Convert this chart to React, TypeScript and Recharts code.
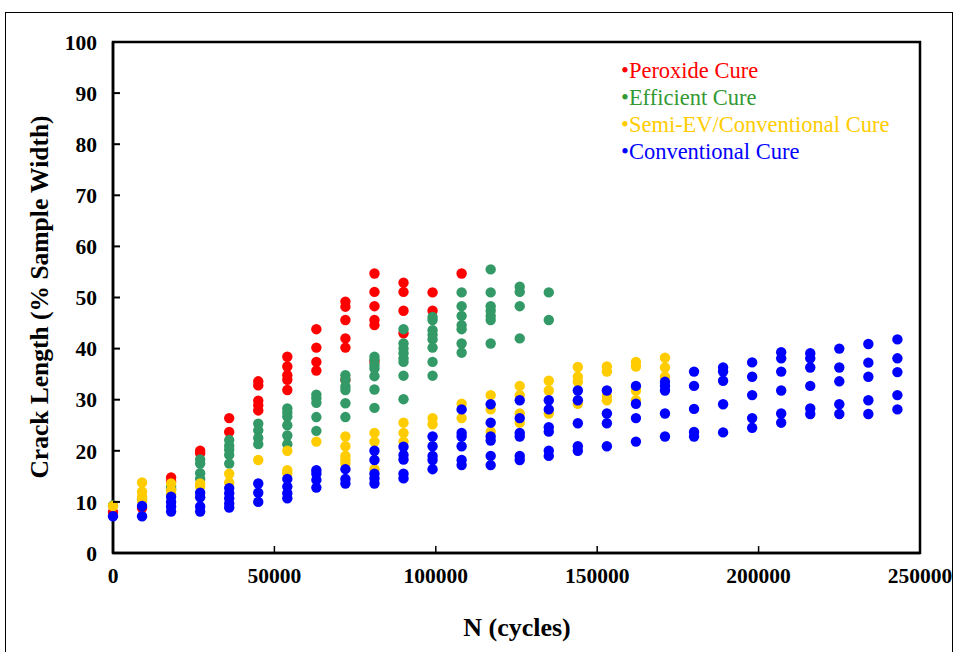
import React from "react";
import { ScatterChart, Scatter, XAxis, YAxis, ReferenceArea } from "recharts";

const cycles = [0, 9000, 18000, 27000, 36000, 45000, 54000, 63000, 72000, 81000, 90000, 99000, 108000, 117000, 126000, 135000, 144000, 153000, 162000, 171000, 180000, 189000, 198000, 207000, 216000, 225000, 234000, 243000];

const xTicks = [0, 50000, 100000, 150000, 200000, 250000];
const yTicks = [0, 10, 20, 30, 40, 50, 60, 70, 80, 90, 100];

const seriesNames = ["Peroxide Cure", "Efficient Cure", "Semi-EV/Conventional Cure", "Conventional Cure"];

// crack length values per cycle count (index matches cycles)
const peroxide: number[][] = [
  [8], [8.8], [14.8, 14], [20, 19.5], [26.4, 23.7], [33.6, 32.8, 29.8, 28.9, 27.9],
  [38.4, 36.5, 34.8, 33.9, 31.9], [43.8, 40.2, 37.4, 35.7], [49.2, 48.2, 45.6, 42.0, 40.2, 33.9],
  [54.7, 51.1, 48.3, 45.6, 44.6, 37.5], [52.9, 51.1, 47.4, 43.0], [51.0, 47.4], [54.7],
];

const efficient: number[][] = [
  [9.3], [10.5], [13, 12.5], [18.3, 17.5, 15.6, 14.5], [22.1, 21, 20.2, 19.2, 17.5], [25.3, 24.0, 22.5, 21.3],
  [28.3, 27.5, 26.7, 25.0, 23.0, 21.3], [31.0, 30.3, 29.4, 26.6, 23.9], [34.8, 33.9, 32.6, 31.9, 29.3, 26.6],
  [38.4, 37.8, 36.8, 36.1, 34.6, 32.0, 28.4], [43.8, 41.0, 40.0, 39.1, 38.1, 37.4, 34.7, 30.1],
  [46.2, 45.6, 43.6, 42.7, 41.8, 40.2, 37.4, 34.7], [51.0, 48.3, 46.4, 44.6, 43.8, 41.0, 39.2],
  [55.5, 51.0, 48.3, 47.4, 46.4, 45.6, 41.0], [52.1, 51.1, 48.3, 42.0], [51.0, 45.6],
];

const semiEV: number[][] = [
  [9.2], [13.8, 12.0, 11.0, 10.2], [13.6, 12.3, 11.5], [13.6, 13.0], [15.5, 13.8], [18.2],
  [20.0, 16.2, 15.6], [21.8], [22.8, 20.9, 19.0, 18.2, 17.5], [23.5, 21.8, 16.4], [25.5, 23.5, 21.8],
  [26.4, 25.2], [29.2, 26.4], [30.9, 28.1, 23.75], [32.7, 30.9, 27.3, 25.5], [33.7, 31.8, 27.3],
  [36.4, 34.5, 33.5, 29.2], [36.5, 35.5, 30.7, 29.9], [37.4, 36.5, 31.8, 29.9], [38.2, 36.3, 34.5],
];

const conventional: number[][] = [
  [7.2], [9.2, 7.2], [11.0, 10.0, 9.1, 8.1], [11.8, 10.9, 9.1, 8.1], [12.7, 11.7, 10.7, 9.7, 8.9],
  [13.6, 11.8, 10.0], [14.5, 13.0, 11.7, 10.7], [16.2, 15.5, 14.3, 12.8], [16.4, 14.5, 13.6],
  [20.0, 18.2, 15.5, 14.6, 13.6], [20.8, 19.2, 18.3, 15.5, 14.6], [22.8, 20.9, 19.0, 18.2, 16.4],
  [28.1, 23.5, 22.8, 20.9, 18.2, 17.2], [29.1, 25.5, 22.8, 22.0, 19.0, 17.2], [29.9, 26.4, 23.5, 22.8, 19.0, 18.2],
  [29.9, 28.1, 24.6, 23.75, 20.0, 19.0], [31.8, 29.9, 25.4, 20.9, 20.0], [31.8, 27.3, 25.4, 20.9],
  [32.7, 29.2, 26.4, 21.8], [33.5, 32.7, 31.8, 27.3, 22.8], [35.5, 32.7, 28.2, 23.7, 22.8],
  [36.3, 35.5, 33.7, 29.1, 23.6], [37.3, 34.5, 30.9, 26.4, 24.5], [39.3, 38.1, 35.5, 31.8, 27.3, 25.5],
  [39.1, 38.1, 36.3, 32.7, 28.3, 27.2], [40.0, 36.3, 33.6, 29.1, 27.2], [40.9, 37.25, 34.5, 29.9, 27.2],
  [41.8, 38.1, 35.4, 30.9, 28.1],
];

const toPoints = (vals: number[][]) =>
  vals.flatMap((arr, i) => arr.map((v) => ({ n: cycles[i], len: v })));

const FONT = "'Liberation Serif', 'Times New Roman', serif";
const dotColors = ["#FF0000", "#339966", "#FFCC00", "#0000FF"];
const textColors = ["#FF0000", "#339933", "#FFCC00", "#0000FF"];

const PLOT_LEFT = 113;
const PLOT_BOTTOM = 553;

const YTick = (props: any) => {
  const { y, payload } = props;
  return (
    <g>
      <line x1={PLOT_LEFT} x2={PLOT_LEFT + 7} y1={y} y2={y} stroke="#000" strokeWidth={2} />
      <text x={97} y={y} dy="0.36em" textAnchor="end" fontFamily={FONT} fontWeight="bold" fontSize={21.5} fill="#000">
        {payload.value}
      </text>
    </g>
  );
};

const XTick = (props: any) => {
  const { x, payload } = props;
  return (
    <g>
      <line x1={x} x2={x} y1={PLOT_BOTTOM} y2={PLOT_BOTTOM - 7} stroke="#000" strokeWidth={1.5} />
      <text x={x} y={583} textAnchor="middle" fontFamily={FONT} fontWeight="bold" fontSize={21.5} fill="#000">
        {payload.value}
      </text>
    </g>
  );
};

const makeShape = (color: string) => (p: any) => (
  <circle cx={p.cx} cy={p.cy} r={5.2} fill={color} />
);

export default function App() {
  const all = [peroxide, efficient, semiEV, conventional];
  return (
    <div style={{ position: "absolute", left: 0, top: 0, width: 956, height: 652, overflow: "hidden", background: "#fff" }}>
      <div style={{ position: "absolute", left: 5, top: 12, width: 946, height: 700, border: "1.5px solid #000" }} />
      <ScatterChart width={956} height={652} margin={{ top: 42, right: 36, bottom: 0, left: 0 }}>
        <XAxis
          type="number"
          dataKey="n"
          domain={[0, 250000]}
          ticks={xTicks}
          interval={0}
          height={99}
          axisLine={{ stroke: "#000", strokeWidth: 2.5 }}
          tickLine={false}
          tick={<XTick />}
        />
        <YAxis
          type="number"
          dataKey="len"
          domain={[0, 100]}
          ticks={yTicks}
          interval={0}
          width={113}
          axisLine={{ stroke: "#000", strokeWidth: 2.5 }}
          tickLine={false}
          tick={<YTick />}
        />
        <ReferenceArea x1={0} x2={250000} y1={0} y2={100} fill="none" fillOpacity={0} stroke="#000" strokeWidth={2.5} />
        {all.map((vals, i) => (
          <Scatter
            key={seriesNames[i]}
            name={seriesNames[i]}
            data={toPoints(vals)}
            fill={dotColors[i]}
            shape={makeShape(dotColors[i])}
            isAnimationActive={false}
          />
        ))}
      </ScatterChart>
      <div style={{ position: "absolute", left: 417, width: 200, top: 613, textAlign: "center", fontFamily: FONT, fontWeight: "bold", fontSize: 26, lineHeight: "30px" }}>
        N (cycles)
      </div>
      <div
        style={{
          position: "absolute",
          left: 40,
          top: 297,
          transform: "translate(-50%, -50%) rotate(-90deg)",
          whiteSpace: "nowrap",
          fontFamily: FONT,
          fontWeight: "bold",
          fontSize: 25.5,
          lineHeight: "30px",
        }}
      >
        Crack Length (% Sample Width)
      </div>
      {seriesNames.map((name, i) => (
        <div
          key={name}
          style={{
            position: "absolute",
            left: 621,
            top: 56.5 + i * 27,
            fontFamily: FONT,
            fontSize: 22.5,
            lineHeight: "27px",
            color: textColors[i],
            whiteSpace: "nowrap",
          }}
        >
          {"\u2022" + name}
        </div>
      ))}
    </div>
  );
}
